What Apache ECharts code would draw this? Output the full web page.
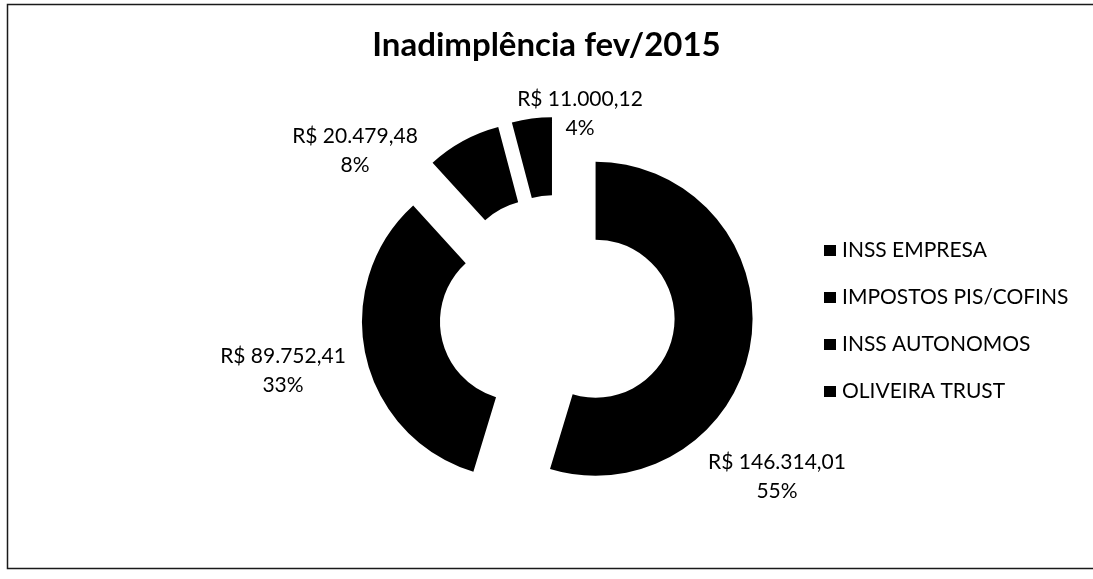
<!DOCTYPE html>
<html>
<head>
<meta charset="utf-8">
<script src="https://cdn.jsdelivr.net/npm/echarts@6/dist/echarts.min.js"></script>
<style>
  html, body { margin: 0; padding: 0; background: #fff; }
  #chart { width: 1093px; height: 579px; }
</style>
</head>
<body>
<div id="chart"></div>
<script>
// Inadimplência fev/2015 — valores em aberto por tipo
const categories = ['INSS EMPRESA', 'IMPOSTOS PIS/COFINS', 'INSS AUTONOMOS', 'OLIVEIRA TRUST'];
const values = [146314.01, 89752.41, 20479.48, 11000.12];
const titleText = 'Inadimplência fev/2015';

// Layout of the doughnut (pixels)
const ringCenter = [557, 313];
const ringRadius = [79, 157];
const explode = 39;
// where each slice's value label sits
const labelSpots = [[777, 477], [283, 371], [355, 151], [580, 114]];

const FONT = 'Lato';

function brl(v) {
  const parts = v.toFixed(2).split('.');
  return 'R$ ' + parts[0].replace(/\B(?=(\d{3})+(?!\d))/g, '.') + ',' + parts[1];
}

const total = values.reduce((a, b) => a + b, 0);
let acc = 0;
const midAngles = values.map(v => {
  const mid = (acc + v / 2) / total * 2 * Math.PI;
  acc += v;
  return mid;
});

// One pie per slice: each draws the whole data set but only shows its own
// slice, shifted outward along its bisector so the doughnut looks exploded.
const series = categories.map((name, i) => ({
  type: 'pie',
  name: name,
  radius: ringRadius,
  center: [
    ringCenter[0] + explode * Math.sin(midAngles[i]),
    ringCenter[1] - explode * Math.cos(midAngles[i])
  ],
  startAngle: 90,
  clockwise: true,
  avoidLabelOverlap: false,
  percentPrecision: 0,
  silent: true,
  animation: false,
  emphasis: { disabled: true },
  labelLine: { show: false },
  labelLayout: function (p) {
    return {
      x: labelSpots[p.dataIndex][0],
      y: labelSpots[p.dataIndex][1],
      align: 'center',
      verticalAlign: 'middle'
    };
  },
  data: categories.map((c, j) => ({
    name: c,
    value: values[j],
    itemStyle: { color: j === i ? '#000000' : 'rgba(0,0,0,0)' },
    label: {
      show: j === i,
      position: 'outside',
      formatter: p => brl(p.value) + '\n' + p.percent + '%',
      fontFamily: FONT,
      fontSize: 21,
      lineHeight: 29,
      color: '#000',
      align: 'center'
    }
  }))
}));

const chart = echarts.init(document.getElementById('chart'), null, { renderer: 'canvas' });
chart.setOption({
  backgroundColor: '#ffffff',
  title: {
    text: titleText,
    left: 'center',
    top: 24,
    textStyle: { fontFamily: FONT, fontWeight: 'bold', fontSize: 33, color: '#000' }
  },
  legend: {
    orient: 'vertical',
    left: 819,
    top: 235,
    icon: 'rect',
    itemWidth: 12,
    itemHeight: 11,
    itemGap: 26,
    selectedMode: false,
    data: categories.map(c => ({ name: c, itemStyle: { color: '#000' } })),
    textStyle: { fontFamily: FONT, fontSize: 21, lineHeight: 18, color: '#000', padding: [0, 0, 0, 1] }
  },
  graphic: [{
    type: 'rect',
    silent: true,
    shape: { x: 7.5, y: 4.5, width: 1100, height: 564 },
    style: { fill: null, stroke: '#1a1a1a', lineWidth: 1.5 }
  }],
  series: series
});
</script>
</body>
</html>
